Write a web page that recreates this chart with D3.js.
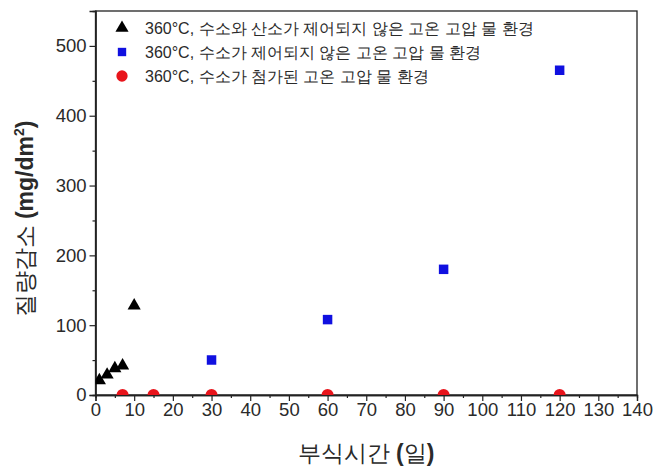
<!DOCTYPE html>
<html><head><meta charset="utf-8">
<script src="https://cdn.jsdelivr.net/npm/d3@7"></script>
<style>body{margin:0;background:#fff}svg{display:block}</style>
</head><body>
<svg id="c" width="656" height="468"></svg>
<script>
const xTicks = [0,10,20,30,40,50,60,70,80,90,100,110,120,130,140];
const yTicks = [0,100,200,300,400,500];
const seriesNames = [
  "360°C, 수소와 산소가 제어되지 않은 고온 고압 물 환경",
  "360°C, 수소가 제어되지 않은 고온 고압 물 환경",
  "360°C, 수소가 첨가된 고온 고압 물 환경"
];
const triX = [1,3,5,7,10];
const triY = [21,29,38,42,128];
const sqX = [30,60,90,120];
const sqY = [50,108,180,465];
const ciX = [7,15,30,60,90,120];
const ciY = [0,0,0,0,0,0];

const svg = d3.select("#c");
const L=95.5, R=637, T=11, B=395;
const x = d3.scaleLinear().domain([0,140]).range([L,R]);
const y = d3.scaleLinear().domain([0,550]).range([B,T]);
const font = "Liberation Sans, Arial, sans-serif";
const txt = "#2a2a2a";

svg.append("defs").append("clipPath").attr("id","clip")
  .append("rect").attr("x",L).attr("y",T).attr("width",R-L).attr("height",B-T);

// frame
svg.append("rect").attr("x",L).attr("y",T).attr("width",R-L).attr("height",B-T)
  .attr("fill","none").attr("stroke","#222").attr("stroke-width",1.3);

// axes
const xa = svg.append("g").attr("transform",`translate(0,${B})`)
  .call(d3.axisBottom(x).tickValues(xTicks).tickSize(6).tickPadding(2).tickFormat(d3.format("d")));
xa.append("g").call(d3.axisBottom(x).tickValues(d3.range(5,140,10)).tickSize(3).tickFormat(""));
const ya = svg.append("g").attr("transform",`translate(${L},0)`)
  .call(d3.axisLeft(y).tickValues(yTicks).tickSize(6).tickPadding(3).tickFormat(d3.format("d")));
ya.append("g").call(d3.axisLeft(y).tickValues(d3.range(50,550,100)).tickSize(3).tickFormat(""));
svg.selectAll(".domain").attr("stroke","#222").attr("stroke-width",1.3);
svg.selectAll(".tick line").attr("stroke","#222").attr("stroke-width",1.2);
svg.selectAll(".tick text").attr("font-family",font).attr("font-size",18.5).attr("fill",txt);

const g = svg.append("g").attr("clip-path","url(#clip)");
const tri = d3.symbol().type(d3.symbolTriangle).size(75);
const sq = d3.symbol().type(d3.symbolSquare).size(90);
const ci = d3.symbol().type(d3.symbolCircle).size(115);

g.selectAll(".c").data(ciX).enter().append("path")
  .attr("d",ci).attr("transform",(d,i)=>`translate(${x(d)},${y(ciY[i])})`).attr("fill","#e8141b");
g.selectAll(".s").data(sqX).enter().append("path")
  .attr("d",sq).attr("transform",(d,i)=>`translate(${x(d)},${y(sqY[i])})`).attr("fill","#1010e0");
g.selectAll(".t").data(triX).enter().append("path")
  .attr("d",tri).attr("transform",(d,i)=>`translate(${x(d)},${y(triY[i])})`).attr("fill","#000");

// legend
const syms = [
  {s:tri, c:"#000"}, {s:d3.symbol().type(d3.symbolSquare).size(70), c:"#1010e0"}, {s:d3.symbol().type(d3.symbolCircle).size(100), c:"#e8141b"}
];
const lg = svg.append("g");
seriesNames.forEach((n,i)=>{
  const yy = 28 + i*24;
  lg.append("path").attr("d",syms[i].s).attr("transform",`translate(122,${yy})`).attr("fill",syms[i].c);
  lg.append("text").attr("x",145).attr("y",yy+6).attr("font-family",font)
    .attr("font-size",16).attr("fill",txt).text(n);
});

// axis titles
const xt = svg.append("text").attr("x",366).attr("y",461).attr("text-anchor","middle")
  .attr("font-family",font).attr("font-size",23).attr("fill",txt);
xt.append("tspan").text("부식시간 ");
xt.append("tspan").attr("font-weight","bold").text("(");
xt.append("tspan").text("일");
xt.append("tspan").attr("font-weight","bold").text(")");

const yt = svg.append("text").attr("transform",`translate(33,219) rotate(-90)`)
  .attr("text-anchor","middle").attr("font-family",font).attr("font-size",23).attr("fill",txt);
yt.append("tspan").text("질량감소 ");
yt.append("tspan").attr("font-weight","bold").text("(mg/dm");
yt.append("tspan").attr("dy",-9).attr("font-size",14).attr("font-weight","bold").text("2");
yt.append("tspan").attr("dy",9).attr("font-weight","bold").text(")");
</script>
</body></html>
